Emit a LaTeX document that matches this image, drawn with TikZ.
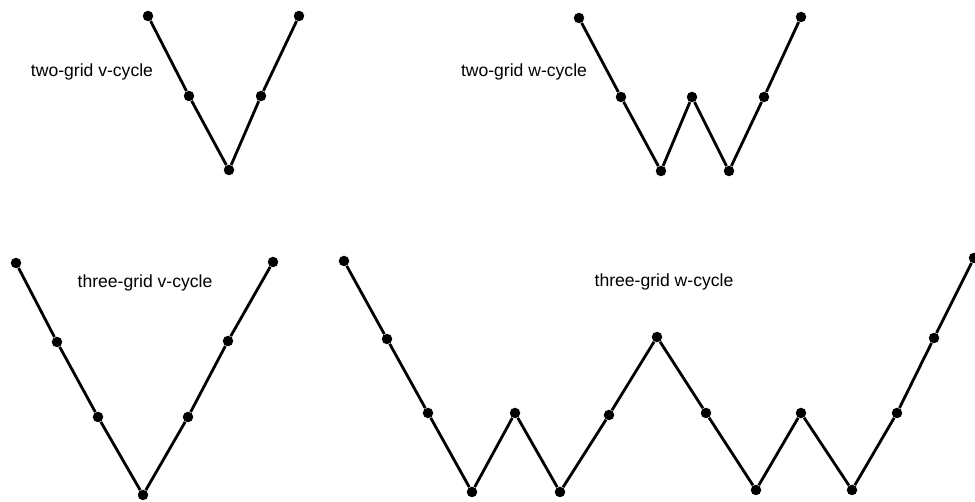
\documentclass[tikz,border=0pt]{standalone}
\usepackage{fontspec}
\setmainfont{Liberation Sans}
\usetikzlibrary{positioning}

\begin{document}
\begin{tikzpicture}[
  x=0.02cm, y=-0.02cm,
  dot/.style={circle, fill=black, draw=none, inner sep=0pt, minimum size=0.21cm},
  label/.style={font=\fontsize{10}{12}\selectfont, inner sep=0pt},
  leg/.style={line width=1.6pt}
]
  \useasboundingbox (0,0) rectangle (975,502);

  \node[label] (tvlbl) at (92,72) {two-grid v-cycle};
  \node[dot] (tv1) at (148,16) {};
  \node[dot] (tv2) at (189,96) {};
  \node[dot] (tv3) at (229,170) {};
  \node[dot] (tv4) at (261,96) {};
  \node[dot] (tv5) at (299,16) {};
  \draw[leg] (tv1) -- (tv2) -- (tv3) -- (tv4) -- (tv5);

  \node[label] (twlbl) at (524,72) {two-grid w-cycle};
  \node[dot] (tw1) at (579,18) {};
  \node[dot] (tw2) at (621,97) {};
  \node[dot] (tw3) at (661,171) {};
  \node[dot] (tw4) at (692,97) {};
  \node[dot] (tw5) at (729,171) {};
  \node[dot] (tw6) at (764,97) {};
  \node[dot] (tw7) at (801,17) {};
  \draw[leg] (tw1) -- (tw2) -- (tw3) -- (tw4) -- (tw5) -- (tw6) -- (tw7);

  \node[label] (hvlbl) at (145,283) {three-grid v-cycle};
  \node[dot] (hv1) at (16,263) {};
  \node[dot] (hv2) at (57,342) {};
  \node[dot] (hv3) at (98,417) {};
  \node[dot] (hv4) at (143,495) {};
  \node[dot] (hv5) at (188,417) {};
  \node[dot] (hv6) at (228,341) {};
  \node[dot] (hv7) at (273,262) {};
  \draw[leg] (hv1) -- (hv2) -- (hv3) -- (hv4) -- (hv5) -- (hv6) -- (hv7);

  \node[label] (hwlbl) at (664,282) {three-grid w-cycle};
  \node[dot] (hw1) at (344,261) {};
  \node[dot] (hw2) at (387,339) {};
  \node[dot] (hw3) at (428,413) {};
  \node[dot] (hw4) at (472,492) {};
  \node[dot] (hw5) at (515,413) {};
  \node[dot] (hw6) at (560,492) {};
  \node[dot] (hw7) at (609,415) {};
  \node[dot] (hw8) at (657,337) {};
  \node[dot] (hw9) at (706,413) {};
  \node[dot] (hw10) at (756,490) {};
  \node[dot] (hw11) at (801,413) {};
  \node[dot] (hw12) at (852,490) {};
  \node[dot] (hw13) at (897,413) {};
  \node[dot] (hw14) at (934,338) {};
  \node[dot] (hw15) at (974,258) {};
  \draw[leg] (hw1) -- (hw2) -- (hw3) -- (hw4) -- (hw5) -- (hw6) -- (hw7) -- (hw8)
    -- (hw9) -- (hw10) -- (hw11) -- (hw12) -- (hw13) -- (hw14) -- (hw15);
\end{tikzpicture}
\end{document}
